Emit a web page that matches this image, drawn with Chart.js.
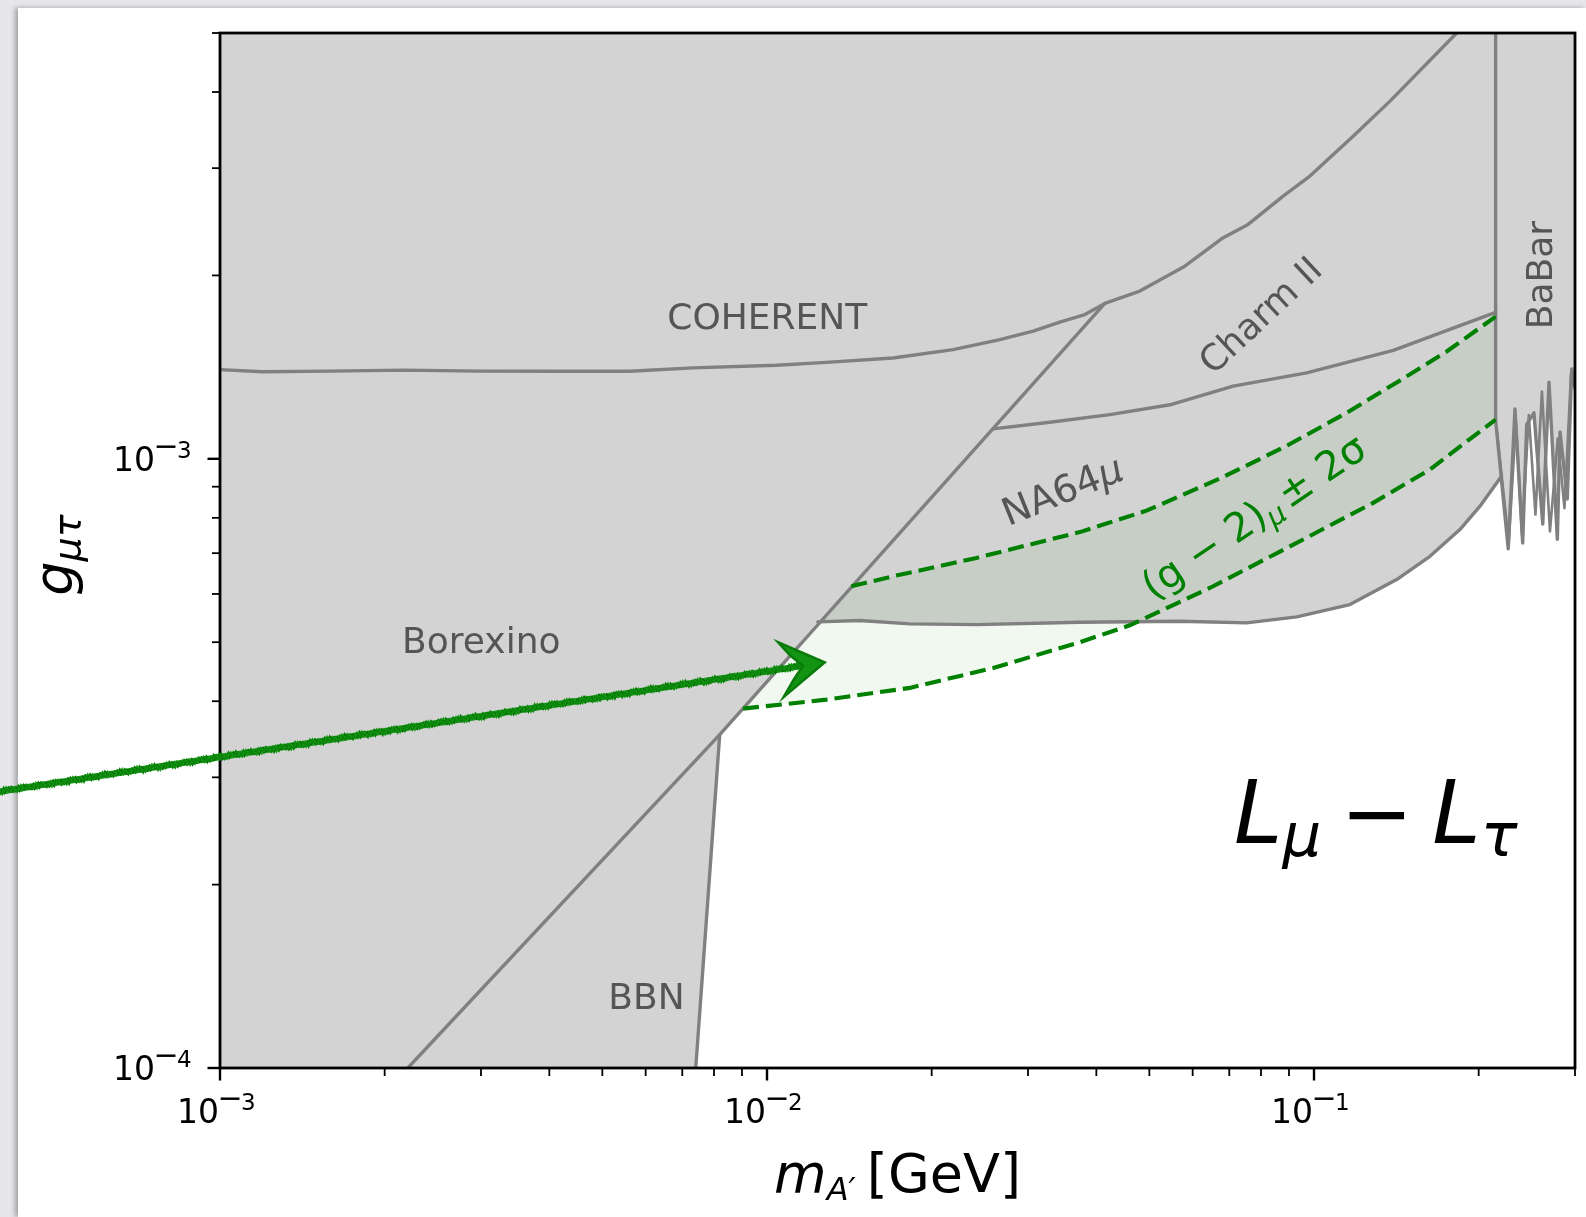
<!DOCTYPE html>
<html>
<head>
<meta charset="utf-8">
<script src="https://cdn.jsdelivr.net/npm/chart.js@4.4.0/dist/chart.umd.min.js"></script>
<style>
  html, body { margin: 0; padding: 0; }
  body { width: 1586px; height: 1217px; background: #e7e7eb; position: relative; overflow: hidden; }
  #paper { position: absolute; left: 18px; top: 8px; right: 0; bottom: 0; background: #fff; box-shadow: -3px 0 5px rgba(0,0,0,0.3); }
  #chart { position: absolute; left: 0; top: 0; }
</style>
</head>
<body>
<div id="paper"></div>
<canvas id="chart" width="1586" height="1217"></canvas>
<script>
// axis ranges
const xRange = [1e-3, 0.3];
const yRange = [1e-4, 5e-3];

// tick positions
const xMajorTicks = [1e-3, 1e-2, 1e-1];
const xMajorExp = ['−3', '−2', '−1'];
const xMinorTicks = [2e-3, 3e-3, 4e-3, 5e-3, 6e-3, 7e-3, 8e-3, 9e-3,
                     2e-2, 3e-2, 4e-2, 5e-2, 6e-2, 7e-2, 8e-2, 9e-2, 0.2, 0.3];
const yMajorTicks = [1e-4, 1e-3];
const yMajorExp = ['−4', '−3'];
const yMinorTicks = [2e-4, 3e-4, 4e-4, 5e-4, 6e-4, 7e-4, 8e-4, 9e-4, 2e-3, 3e-3, 4e-3, 5e-3];

// COHERENT edge (runs on into the upper Charm II edge)
const coherentX = [0.001, 0.001196, 0.001586, 0.002175, 0.002983, 0.004177, 0.005609, 0.007325,
                   0.0104, 0.01284, 0.01699, 0.02189, 0.02665, 0.03066, 0.0343, 0.03811, 0.04146,
                   0.04804, 0.05806, 0.06823, 0.07577, 0.08781, 0.09829, 0.1179, 0.1377, 0.1823];
const coherentY = [1.401e-3, 1.390e-3, 1.393e-3, 1.398e-3, 1.393e-3, 1.392e-3, 1.392e-3, 1.410e-3,
                   1.424e-3, 1.440e-3, 1.464e-3, 1.511e-3, 1.569e-3, 1.620e-3, 1.676e-3, 1.725e-3, 1.799e-3,
                   1.885e-3, 2.071e-3, 2.307e-3, 2.425e-3, 2.699e-3, 2.911e-3, 3.385e-3, 3.865e-3, 5.0e-3];

// Borexino edge
const borexinoX = [0.002205, 0.008195, 0.04146];
const borexinoY = [1e-4, 3.526e-4, 1.799e-3];

// BBN edge
const bbnX = [0.007408, 0.008195];
const bbnY = [1e-4, 3.526e-4];

// Charm II lower edge
const charmX = [0.02591, 0.03289, 0.04234, 0.05491, 0.07116, 0.09694, 0.1396, 0.2148];
const charmY = [1.120e-3, 1.148e-3, 1.182e-3, 1.228e-3, 1.316e-3, 1.384e-3, 1.507e-3, 1.739e-3];

// NA64mu lower edge
const na64X = [0.01238, 0.01477, 0.01824, 0.02415, 0.03732, 0.05684, 0.07527, 0.09295,
               0.1163, 0.1416, 0.1629, 0.1848, 0.2011, 0.2203];
const na64Y = [5.399e-4, 5.426e-4, 5.358e-4, 5.344e-4, 5.391e-4, 5.412e-4, 5.379e-4, 5.502e-4,
               5.764e-4, 6.336e-4, 6.918e-4, 7.653e-4, 8.362e-4, 9.369e-4];

// BaBar edge (two overlapping traces)
const babarX = [0.2148, 0.2148, 0.2265, 0.2330, 0.2407, 0.2448, 0.2524, 0.2619,
                0.2689, 0.2785, 0.2817, 0.2904, 0.2959, 0.3];
const babarY = [5.0e-3, 1.156e-3, 7.118e-4, 1.207e-3, 7.275e-4, 1.139e-3, 1.190e-3, 7.817e-4,
                1.336e-3, 7.380e-4, 1.107e-3, 8.593e-4, 1.405e-3, 1.336e-3];
const babar2X = [0.2157, 0.2270, 0.2340, 0.2400, 0.2470, 0.2540, 0.2610, 0.2700, 0.2790, 0.2870, 0.2950, 0.3];
const babar2Y = [1.120e-3, 7.300e-4, 1.150e-3, 7.500e-4, 1.180e-3, 8.100e-4, 1.290e-3, 7.600e-4, 1.080e-3, 8.300e-4, 1.380e-3, 1.300e-3];

// (g-2)_mu +- 2 sigma band
const gm2UpperX = [0.01426, 0.01699, 0.02415, 0.03732, 0.04941, 0.06729, 0.08911, 0.1147, 0.1437, 0.1748, 0.2148];
const gm2UpperY = [6.177e-4, 6.414e-4, 6.876e-4, 7.581e-4, 8.220e-4, 9.280e-4, 1.050e-3, 1.190e-3, 1.345e-3, 1.500e-3, 1.712e-3];
const gm2LowerX = [0.00904, 0.01284, 0.01824, 0.02591, 0.03732, 0.04605, 0.06541, 0.09295, 0.1283, 0.1629, 0.2148];
const gm2LowerY = [3.890e-4, 4.024e-4, 4.207e-4, 4.535e-4, 5.000e-4, 5.330e-4, 6.177e-4, 7.278e-4, 8.467e-4, 9.603e-4, 1.160e-3];

// hand drawn arrow (start lies left of the axes)
const arrowFrom = [3.95e-4, 2.842e-4];
const arrowTo = [0.01275, 4.634e-4];

const FONT = '"DejaVu Sans"';
const GRAY = '#808080';
const GREEN = '#008000';

const pts = (xs, ys) => xs.map((v, i) => ({x: v, y: ys[i]}));

// lower edge of everything that is excluded
const excludedEdge = [
  {x: xRange[0], y: yRange[0]},
  ...pts(bbnX, bbnY),
  ...pts(na64X, na64Y),
  ...pts(babarX, babarY).slice(2)
];
const bandTop = [{x: gm2LowerX[0], y: gm2LowerY[0]}, ...pts(gm2UpperX, gm2UpperY)];

const edge = (label, xs, ys) => ({
  label, data: pts(xs, ys), borderColor: GRAY, borderWidth: 3.4, pointRadius: 0,
  fill: false, order: 3, borderJoinStyle: 'round', borderCapStyle: 'round'
});
const dashed = (label, xs, ys) => ({
  label, data: pts(xs, ys), borderColor: GREEN, borderWidth: 4.1,
  borderDash: [16, 7], pointRadius: 0, fill: false, order: 1
});

const datasets = [
  dashed('g-2 upper', gm2UpperX, gm2UpperY),
  dashed('g-2 lower', gm2LowerX, gm2LowerY),
  edge('COHERENT', coherentX, coherentY),
  edge('Borexino', borexinoX, borexinoY),
  edge('BBN', bbnX, bbnY),
  edge('Charm II', charmX, charmY),
  edge('NA64mu', na64X, na64Y),
  edge('BaBar', babarX, babarY),
  {...edge('BaBar 2', babar2X, babar2Y), borderWidth: 2.6},
  {label: 'band', data: bandTop, borderWidth: 0, borderColor: 'rgba(0,0,0,0)', pointRadius: 0,
   backgroundColor: 'rgba(0,128,0,0.06)', fill: 1, order: 8},
  {label: 'excluded', data: excludedEdge, borderWidth: 0, borderColor: 'rgba(0,0,0,0)', pointRadius: 0,
   backgroundColor: '#d3d3d3', fill: 'end', order: 9}
];

// rich text: list of [text, font, dy, gapAfter]
function rich(ctx, parts, cx, cy, deg, color) {
  ctx.save();
  ctx.translate(cx, cy);
  ctx.rotate(deg * Math.PI / 180);
  ctx.fillStyle = color;
  ctx.textAlign = 'left';
  ctx.textBaseline = 'alphabetic';
  let total = 0;
  for (const p of parts) { ctx.font = p[1]; total += ctx.measureText(p[0]).width + (p[3] || 0); }
  let cur = -total / 2;
  for (const p of parts) {
    ctx.font = p[1];
    ctx.fillText(p[0], cur, p[2] || 0);
    cur += ctx.measureText(p[0]).width + (p[3] || 0);
  }
  ctx.restore();
}

function powLabel(ctx, exp, x0, base) {
  ctx.textAlign = 'left';
  ctx.textBaseline = 'alphabetic';
  ctx.font = '33px ' + FONT;
  ctx.fillText('10', x0, base);
  const w = ctx.measureText('10').width;
  ctx.font = '30px ' + FONT;
  ctx.fillText('−', x0 + w - 1.5, base - 15);
  ctx.font = '23px ' + FONT;
  ctx.fillText(exp.slice(1), x0 + w + 22, base - 13);
}

const decor = {
  id: 'decor',
  afterDraw(chart) {
    const {ctx, chartArea: a, scales: {x, y}} = chart;
    ctx.save();
    // frame
    ctx.strokeStyle = '#000';
    ctx.lineWidth = 2.8;
    ctx.strokeRect(a.left, a.top, a.right - a.left, a.bottom - a.top);
    // ticks
    const tk = (x1, y1, x2, y2, w) => {
      ctx.lineWidth = w;
      ctx.beginPath(); ctx.moveTo(x1, y1); ctx.lineTo(x2, y2); ctx.stroke();
    };
    xMajorTicks.forEach(v => { const p = x.getPixelForValue(v); tk(p, a.bottom, p, a.bottom + 12.5, 2.4); });
    xMinorTicks.forEach(v => { const p = x.getPixelForValue(v); tk(p, a.bottom, p, a.bottom + 8, 1.8); });
    yMajorTicks.forEach(v => { const p = y.getPixelForValue(v); tk(a.left, p, a.left - 12.5, p, 2.4); });
    yMinorTicks.forEach(v => { const p = y.getPixelForValue(v); tk(a.left, p, a.left - 8, p, 1.8); });
    ctx.fillStyle = '#000';
    xMajorTicks.forEach((v, i) => powLabel(ctx, xMajorExp[i], x.getPixelForValue(v) - 43, a.bottom + 55));
    yMajorTicks.forEach((v, i) => powLabel(ctx, yMajorExp[i], a.left - 107, y.getPixelForValue(v) + 12.4));

    // axis labels
    rich(ctx, [['m', 'italic 54px ' + FONT], ['A′', 'italic 32px ' + FONT, 8, 11],
               ['[GeV]', '54px ' + FONT]], (a.left + a.right) / 2, a.bottom + 123.5, 0, '#000');
    rich(ctx, [['g', 'italic 54px ' + FONT], ['μτ', 'italic 38px ' + FONT, 8]], 71.7, 555, -90, '#000');

    // region names
    const P = (vx, vy) => [x.getPixelForValue(vx), y.getPixelForValue(vy)];
    const g36 = '36px ' + FONT;
    let p;
    p = P(0.01001, 1.714e-3); rich(ctx, [['COHERENT', g36, 13]], p[0], p[1], 0, '#555');
    p = P(0.003004, 5.05e-4); rich(ctx, [['Borexino', g36, 13]], p[0], p[1], 0, '#555');
    p = P(0.00602, 1.311e-4); rich(ctx, [['BBN', g36, 13]], p[0], p[1], 0, '#555');
    p = P(0.0796, 1.725e-3); rich(ctx, [['Charm II', g36, 13]], p[0], p[1], -43, '#555');
    p = P(0.0346, 8.905e-4);
    rich(ctx, [['NA64', '38px ' + FONT, 14], ['μ', 'italic 38px ' + FONT, 14]], p[0], p[1], -22, '#555');
    p = P(0.2578, 2.002e-3); rich(ctx, [['BaBar', g36, 13]], p[0], p[1], -90, '#555');
    p = P(0.0775, 8.05e-4);
    const g40 = '40px ' + FONT;
    rich(ctx, [['(g − 2)', g40, 14], ['μ', 'italic 28px ' + FONT, 21, 5], ['± 2σ', g40, 14]], p[0], p[1], -34, GREEN);
    p = P(0.1297, 2.342e-4);
    rich(ctx, [['L', 'italic 87px ' + FONT], ['μ', 'italic 61px ' + FONT, 13, 19], ['−', '87px ' + FONT, 0, 19],
               ['L', 'italic 87px ' + FONT], ['τ', 'italic 61px ' + FONT, 13]], p[0], p[1], 0, '#000');

    // sketchy arrow
    const s = P(arrowFrom[0], arrowFrom[1]);
    const e = P(arrowTo[0], arrowTo[1]);
    const len = Math.hypot(e[0] - s[0], e[1] - s[1]);
    const ux = (e[0] - s[0]) / len, uy = (e[1] - s[1]) / len;
    const nx = -uy, ny = ux;
    ctx.lineCap = 'round';
    ctx.strokeStyle = '#139413';
    tk(s[0], s[1], e[0] - 20 * ux, e[1] - 20 * uy, 6.5);
    const strands = ['#0a7a0a', '#1aa01a', '#067006', '#129612', '#0d850d'];
    strands.forEach((c, k) => {
      ctx.strokeStyle = c;
      ctx.lineWidth = 1.5;
      ctx.beginPath();
      for (let t = 0; t <= len - 20; t += 2.5) {
        const off = 2.8 * Math.sin(t * 0.83 + k * 1.7) + 1.2 * Math.sin(t * 2.9 + k * 0.6);
        const px = s[0] + ux * t + nx * off, py = s[1] + uy * t + ny * off;
        if (t === 0) ctx.moveTo(px, py); else ctx.lineTo(px, py);
      }
      ctx.stroke();
    });
    const L = (u, n) => [e[0] + ux * u + nx * n, e[1] + uy * u + ny * n];
    const head = [L(-46, 28), L(0, 0), L(-43, -27), L(-33, -12), L(-22, 0), L(-33, 12)];
    ctx.fillStyle = '#139413';
    ctx.strokeStyle = '#0a7a0a';
    ctx.beginPath();
    head.forEach((q, i) => i ? ctx.lineTo(q[0], q[1]) : ctx.moveTo(q[0], q[1]));
    ctx.closePath();
    ctx.fill();
    ctx.lineWidth = 2.5;
    ctx.stroke();
    ctx.restore();
  }
};

new Chart(document.getElementById('chart'), {
  type: 'line',
  data: {datasets},
  options: {
    responsive: false,
    animation: false,
    events: [],
    layout: {padding: {top: 33, right: 11, left: 0, bottom: 0}},
    plugins: {legend: {display: false}, tooltip: {enabled: false}},
    scales: {
      x: {type: 'logarithmic', min: xRange[0], max: xRange[1],
          grid: {display: false}, border: {display: false}, ticks: {display: false},
          afterFit: s => { s.height = 149; }},
      y: {type: 'logarithmic', min: yRange[0], max: yRange[1],
          grid: {display: false}, border: {display: false}, ticks: {display: false},
          afterFit: s => { s.width = 220; }}
    }
  },
  plugins: [decor]
});
</script>
</body>
</html>
